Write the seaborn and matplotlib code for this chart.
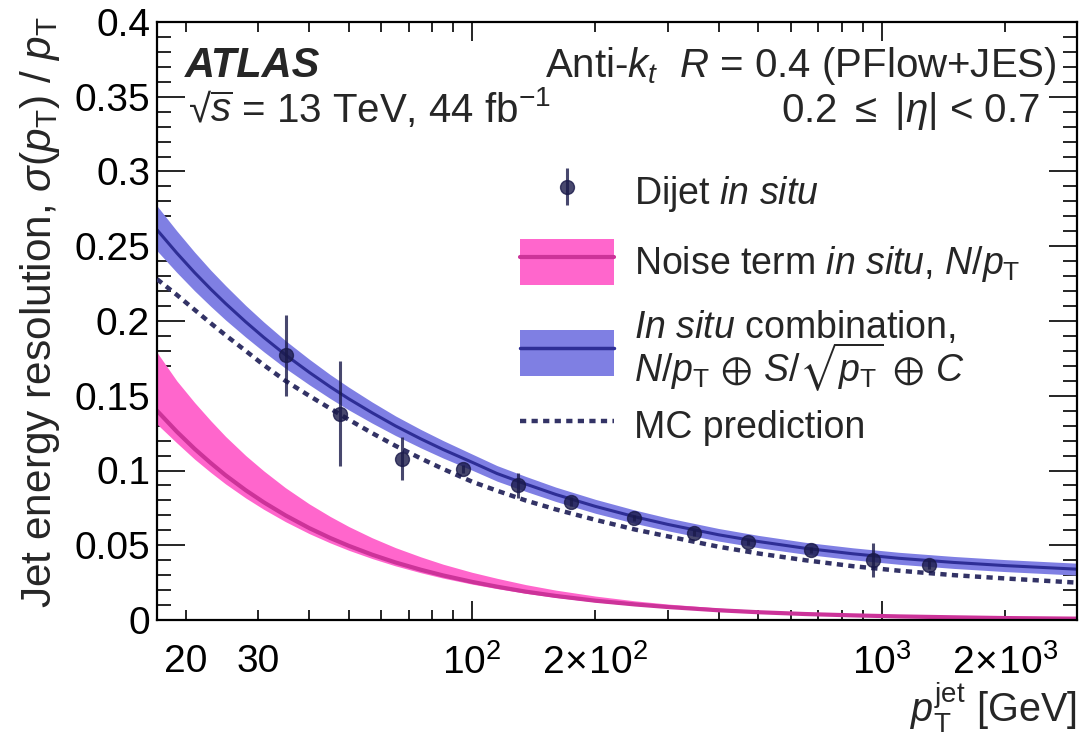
import matplotlib
matplotlib.use('Agg')
import matplotlib.pyplot as plt
import seaborn as sns
import pandas as pd
from matplotlib.patches import Patch
from matplotlib.lines import Line2D
from matplotlib.ticker import MultipleLocator, FuncFormatter, LogLocator

# values (pT in GeV)
pt_grid = [17, 19, 21, 23, 25, 28, 31, 35, 40, 45, 50, 57, 65, 75, 85, 100, 115, 135, 160, 200,
           250, 300, 400, 500, 650, 850, 1100, 1500, 2000, 3000]

# in situ combination N/pT + S/sqrt(pT) + C, centre and band edges
comb_mid = [0.261, 0.2455, 0.2324, 0.2213, 0.2117, 0.1994, 0.189, 0.1774, 0.1657, 0.156,
            0.1479, 0.1386, 0.1298, 0.1211, 0.114, 0.1055, 0.098, 0.091, 0.084, 0.076,
            0.069, 0.064, 0.057, 0.0525, 0.048, 0.0443, 0.0413, 0.0385, 0.0364, 0.034]
comb_hi = [0.277, 0.2603, 0.2461, 0.234, 0.2237, 0.2104, 0.1993, 0.1869, 0.1745, 0.1642,
           0.1557, 0.1458, 0.1365, 0.1274, 0.12, 0.111, 0.1033, 0.0961, 0.0889, 0.0807,
           0.0735, 0.0683, 0.0612, 0.0566, 0.052, 0.0483, 0.0453, 0.0425, 0.0404, 0.038]
comb_lo = [0.247, 0.2325, 0.2202, 0.2098, 0.2007, 0.1892, 0.1794, 0.1684, 0.1574, 0.1482,
           0.1405, 0.1317, 0.1234, 0.1151, 0.1083, 0.1002, 0.0929, 0.0861, 0.0793, 0.0714,
           0.0646, 0.0597, 0.0528, 0.0484, 0.044, 0.0403, 0.0373, 0.0345, 0.0324, 0.030]

# noise term in situ N/pT
noise_mid = [0.140, 0.126, 0.1145, 0.105, 0.0968, 0.0868, 0.0787, 0.070, 0.0615, 0.0549,
             0.0496, 0.0437, 0.0385, 0.0336, 0.0298, 0.0255, 0.0223, 0.019, 0.0161, 0.0129,
             0.0104, 0.0087, 0.0065, 0.0052, 0.004, 0.0031, 0.0024, 0.0018, 0.0013, 0.0009]
noise_hi = [0.179, 0.160, 0.1455, 0.1333, 0.1228, 0.110, 0.0997, 0.0885, 0.0777, 0.0693,
            0.0625, 0.055, 0.0484, 0.0422, 0.0373, 0.0319, 0.0279, 0.0237, 0.020, 0.016,
            0.0128, 0.0107, 0.008, 0.0064, 0.0049, 0.0038, 0.0029, 0.0022, 0.0016, 0.0011]
noise_lo = [0.131, 0.1185, 0.1076, 0.0987, 0.091, 0.0816, 0.074, 0.0658, 0.0578, 0.0516,
            0.0466, 0.0411, 0.0362, 0.0316, 0.028, 0.024, 0.021, 0.0179, 0.0151, 0.0121,
            0.0098, 0.0082, 0.0061, 0.0049, 0.0038, 0.0029, 0.0023, 0.0017, 0.0012, 0.0008]

mc_pred = [0.228, 0.2175, 0.2075, 0.1985, 0.1905, 0.180, 0.1705, 0.160, 0.150, 0.1415,
           0.134, 0.125, 0.1165, 0.108, 0.101, 0.0925, 0.0865, 0.080, 0.074, 0.067,
           0.0605, 0.056, 0.049, 0.0445, 0.040, 0.036, 0.033, 0.030, 0.0278, 0.025]

dijet_pt = [35.1, 47.6, 67.4, 95.1, 129.6, 174.6, 249, 349, 473, 674, 951, 1303]
dijet_res = [0.177, 0.138, 0.108, 0.101, 0.090, 0.079, 0.068, 0.058, 0.052, 0.047, 0.040, 0.037]
dijet_err = [0.027, 0.035, 0.0145, 0.003, 0.0085, 0.003, 0.002, 0.002, 0.002, 0.002, 0.0115, 0.003]

curves = pd.DataFrame({'pt': pt_grid, 'comb': comb_mid, 'comb_hi': comb_hi, 'comb_lo': comb_lo,
                       'noise': noise_mid, 'noise_hi': noise_hi, 'noise_lo': noise_lo,
                       'mc': mc_pred})
points = pd.DataFrame({'pt': dijet_pt, 'res': dijet_res, 'err': dijet_err})

sns.set_theme(style='ticks')
plt.rcParams['font.family'] = ['Liberation Sans', 'DejaVu Sans']
plt.rcParams['mathtext.fontset'] = 'custom'
plt.rcParams['mathtext.rm'] = 'Liberation Sans'
plt.rcParams['mathtext.it'] = 'Liberation Sans:italic'
plt.rcParams['mathtext.bf'] = 'Liberation Sans:bold'
plt.rcParams['mathtext.fallback'] = 'stixsans'

pink = '#ff66cc'
pink_line = '#cc3399'
blue = '#7f7fe3'
blue_line = '#2e2e96'
navy = '#333366'
dots = (0, (1.4, 1.2))

fig = plt.figure(figsize=(10.81, 7.36), dpi=100)
W, H = 1081, 736
ax = fig.add_axes([157 / W, 1 - 620 / H, 920 / W, 598 / H])

# bands
ax.fill_between(curves['pt'], curves['noise_lo'], curves['noise_hi'], color=pink, lw=0, zorder=1)
ax.fill_between(curves['pt'], curves['comb_lo'], curves['comb_hi'], color=blue, lw=0, zorder=1)
sns.lineplot(data=curves, x='pt', y='noise', color=pink_line, lw=3, ax=ax, zorder=2)
sns.lineplot(data=curves, x='pt', y='comb', color=blue_line, lw=2.2, ax=ax, zorder=2)
sns.lineplot(data=curves, x='pt', y='mc', color=navy, lw=3.2, linestyle=dots, ax=ax, zorder=3)

# dijet in situ points
h_data = ax.errorbar(points['pt'], points['res'], yerr=points['err'], fmt='o',
                     color='#1a1a4a', alpha=0.8, ms=10, elinewidth=2.2, capsize=0, zorder=4)

ax.set_xscale('log')
ax.set_xlim(17, 3000)
ax.set_ylim(0, 0.4)
ax.set_xlabel('')
ax.set_ylabel('')

ax.yaxis.set_major_locator(MultipleLocator(0.05))
ax.yaxis.set_minor_locator(MultipleLocator(0.01))
ax.yaxis.set_major_formatter(FuncFormatter(lambda v, p: '%g' % round(v, 3)))

ax.xaxis.set_major_locator(LogLocator(base=10))
ax.xaxis.set_minor_locator(LogLocator(base=10, subs=range(2, 10)))


def minor_lab(v, p):
    v = round(v)
    named = {20: '20', 30: '30', 200: r'$2\!\times\!10^{2}$', 2000: r'$2\!\times\!10^{3}$'}
    return named.get(v, '')


ax.xaxis.set_minor_formatter(FuncFormatter(minor_lab))

for s in ax.spines.values():
    s.set_linewidth(1.6)
    s.set_color('black')
ax.tick_params(which='both', direction='in', top=True, right=True, colors='black')
ax.tick_params(axis='y', which='major', length=20, width=1.2, labelsize=28, pad=5)
ax.tick_params(axis='y', which='minor', length=10, width=1.2)
ax.tick_params(axis='x', which='major', length=14, width=1.2, labelsize=28, pad=17)
ax.tick_params(axis='x', which='minor', length=7, width=1.2, labelsize=28, pad=17)

# legend (MC entry placed separately so its row sits where the reference has it)
h_noise = (Patch(facecolor=pink, edgecolor='none'), Line2D([], [], color=pink_line, lw=3))
h_comb = (Patch(facecolor=blue, edgecolor='none'), Line2D([], [], color=blue_line, lw=2.5))
h_mc = Line2D([], [], color=navy, lw=3.2, linestyle=dots)
labels = [r'Dijet $\mathit{in\ situ}$',
          r'Noise term $\mathit{in\ situ}$, $N/p_{\mathrm{T}}$',
          r'$\mathit{In\ situ}$ combination,' + '\n' +
          r'$N/p_{\mathrm{T}}\,\oplus\,S/\sqrt{p_{\mathrm{T}}}\,\oplus\,C$']
leg_kw = dict(loc='upper left', frameon=False, fontsize=27, handlelength=2.5, handleheight=1.5,
              handletextpad=0.55, labelspacing=0.65, borderpad=0, borderaxespad=0)
leg = ax.legend([h_data, h_noise, h_comb], labels,
                bbox_to_anchor=((520 - 157) / 920, (620 - 169) / 598), **leg_kw)
leg.get_texts()[2].set_linespacing(0.85)
leg_mc = ax.legend([h_mc], ['MC prediction'],
                   bbox_to_anchor=((520 - 157) / 920, (620 - 403) / 598), **leg_kw)
ax.add_artist(leg)

# labels and annotations
fig.text(185 / W, 1 - 77 / H, 'ATLAS', fontsize=30, fontweight='bold', fontstyle='italic',
         va='baseline')
fig.text(188 / W, 1 - 122 / H, '\u221a' + r'$\overline{s}$ = 13 TeV, 44 fb$^{-1}$', fontsize=29,
         va='baseline')
fig.text(1057 / W, 1 - 77 / H, r'Anti-$k_{t}$  $R$ = 0.4 (PFlow+JES)', fontsize=29,
         va='baseline', ha='right')
fig.text(1040 / W, 1 - 122 / H, r'0.2 $\leq$ |$\eta$| < 0.7', fontsize=29, va='baseline', ha='right')

fig.text(40 / W, 1 - 16 / H, r'Jet energy resolution, $\sigma(p_{\mathrm{T}})$ / $p_{\mathrm{T}}$',
         fontsize=30.5, rotation=90, ha='center', va='top')
fig.text(1077 / W, 1 / H, r'$p_{\mathrm{T}}^{\mathrm{jet}}$ [GeV]', fontsize=28.5,
         ha='right', va='bottom')

plt.savefig('out.png', dpi=100)
